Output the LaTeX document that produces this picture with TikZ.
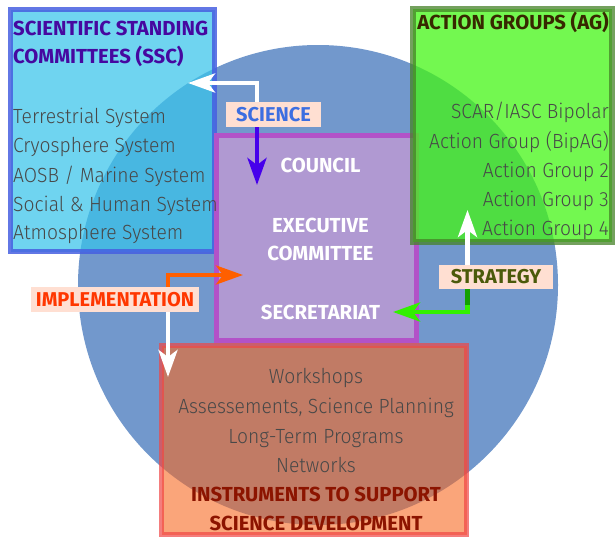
\documentclass[tikz,border=0pt]{standalone}
\usepackage{fontspec}
\setmainfont{Fira Sans}
\newfontfamily\lightfont[FakeStretch=0.94]{Fira Sans Light}
\usetikzlibrary{arrows.meta}
\definecolor{circfill}{RGB}{114,152,204}
\definecolor{sscfill}{RGB}{56,195,234}
\definecolor{sscline}{RGB}{70,95,225}
\definecolor{exfill}{RGB}{176,153,210}
\definecolor{exline}{RGB}{178,82,200}
\definecolor{agfill}{RGB}{68,245,21}
\definecolor{agline}{RGB}{70,130,40}
\definecolor{infill}{RGB}{247,105,33}
\definecolor{inline}{RGB}{240,70,70}
\definecolor{labfill}{RGB}{255,223,210}
\definecolor{bodytxt}{RGB}{72,72,72}
\definecolor{ssctxt}{RGB}{70,8,160}
\definecolor{agtxt}{RGB}{55,40,0}
\definecolor{intxt}{RGB}{140,20,0}
\definecolor{scitxt}{RGB}{60,110,225}
\definecolor{imptxt}{RGB}{255,55,0}
\definecolor{strtxt}{RGB}{75,90,10}
\definecolor{orarrow}{RGB}{255,95,0}
\definecolor{bluearrow}{RGB}{70,0,235}
\definecolor{grarrow}{RGB}{50,240,0}
\definecolor{dkgreen}{RGB}{20,160,0}
\begin{document}
\begin{tikzpicture}[x=1pt,y=-1pt,
  box/.style={rectangle, inner sep=0pt, outer sep=0pt, line width=5pt},
  sscbox/.style={box, fill=sscfill, fill opacity=0.72, draw=sscline, draw opacity=0.85},
  exbox/.style={box, fill=exfill, draw=exline},
  agbox/.style={box, line width=6pt, fill=agfill, fill opacity=0.75, draw=agline, draw opacity=0.75},
  inbox/.style={box, fill=infill, fill opacity=0.6, draw=inline, draw opacity=0.7},
  body/.style={inner sep=0pt, text=bodytxt, font=\lightfont\fontsize{20.5}{20.5}\selectfont},
  title/.style={inner sep=0pt, font=\bfseries\fontsize{20.3}{20.3}\selectfont},
  extxt/.style={title, text=white},
  lab/.style={rectangle, fill=labfill, inner sep=0pt, font=\bfseries\fontsize{20}{20}\selectfont},
  arr/.style={line width=4.5pt, -{Stealth[length=27pt,width=19pt,inset=7pt]}}
]
\useasboundingbox (0,0) rectangle (615,538);
\fill[circfill] (318,285) circle[radius=240pt];

\node[sscbox, minimum width=204pt, minimum height=242pt] (ssc) at (112.5,130.5) {};
\node[exbox, minimum width=200pt, minimum height=205pt] (exec) at (316.5,238) {};
\node[agbox, minimum width=199pt, minimum height=233pt] (ag) at (512.5,125.5) {};
\node[inbox, minimum width=305pt, minimum height=189pt] (instr) at (314,440) {};

% SSC texts
\node[title, text=ssctxt, anchor=base west] (ssct1) at (13,35) {SCIENTIFIC STANDING};
\node[title, text=ssctxt, anchor=base west] (ssct2) at (13,63) {COMMITTEES (SSC)};
\node[body, anchor=base west] (s1) at (13,123) {Terrestrial System};
\node[body, anchor=base west] (s2) at (13,152) {Cryosphere System};
\node[body, anchor=base west] (s3) at (13,182) {AOSB / Marine System};
\node[body, anchor=base west] (s4) at (13,211) {Social \& Human System};
\node[body, anchor=base west] (s5) at (13,239) {Atmosphere System};

% AG texts
\node[title, text=agtxt, anchor=base east] (agt) at (609,29) {ACTION GROUPS (AG)};
\node[body, anchor=base east] (a1) at (609,118) {SCAR/IASC Bipolar};
\node[body, anchor=base east] (a2) at (609,148) {Action Group (BipAG)};
\node[body, anchor=base east] (a3) at (609,177) {Action Group 2};
\node[body, anchor=base east] (a4) at (609,206) {Action Group 3};
\node[body, anchor=base east] (a5) at (609,235) {Action Group 4};

% Executive texts
\node[extxt, anchor=base] (council) at (320.5,172) {COUNCIL};
\node[extxt, anchor=base] (ex1) at (320.5,232) {EXECUTIVE};
\node[extxt, anchor=base] (ex2) at (320.5,260) {COMMITTEE};
\node[extxt, anchor=base] (secr) at (320.5,319) {SECRETARIAT};

% Instruments texts
\node[body, anchor=base] (i1) at (316,383) {Workshops};
\node[body, anchor=base] (i2) at (316,413) {Assessements, Science Planning};
\node[body, anchor=base] (i3) at (316,443) {Long-Term Programs};
\node[body, anchor=base] (i4) at (316,472) {Networks};
\node[title, text=intxt, anchor=base] (it1) at (316,501) {INSTRUMENTS TO SUPPORT};
\node[title, text=intxt, anchor=base] (it2) at (316,530) {SCIENCE DEVELOPMENT};

% coordinates for connectors
\coordinate (sciA) at (257,83);
\coordinate (sscTip) at (188,83);
\coordinate (councilTip) at (257,185);
\coordinate (implA) at (168,275);
\coordinate (execTip) at (243,275);
\coordinate (instrTip) at (168,377);
\coordinate (stratA) at (467.5,312);
\coordinate (agTip) at (467.5,210);
\coordinate (secTip) at (393,312);
\coordinate (stratB) at (467.5,305);

% labels
\node[lab, text=scitxt, minimum width=95pt, minimum height=25pt] (science) at (273.5,114.5) {SCIENCE};
\node[lab, text=imptxt, minimum width=168pt, minimum height=25pt] (impl) at (115,299.5) {IMPLEMENTATION};
\node[lab, text=strtxt, minimum width=114pt, minimum height=24pt] (strategy) at (496,277) {STRATEGY};

% connectors
\draw[arr, white] (science.north -| sciA) |- (sscTip);
\draw[arr, bluearrow] (science.south -| sciA) -- (councilTip);
\draw[arr, orarrow] (impl.north -| implA) |- (execTip);
\draw[arr, white] (impl.south -| implA) -- (instrTip);
\draw[arr, white] (strategy.north -| agTip) -- (agTip);
\draw[arr, grarrow] (strategy.south -| stratA) |- (secTip);
\draw[line width=4.5pt, dkgreen] (strategy.south -| stratA) -- (stratB);
\end{tikzpicture}
\end{document}
